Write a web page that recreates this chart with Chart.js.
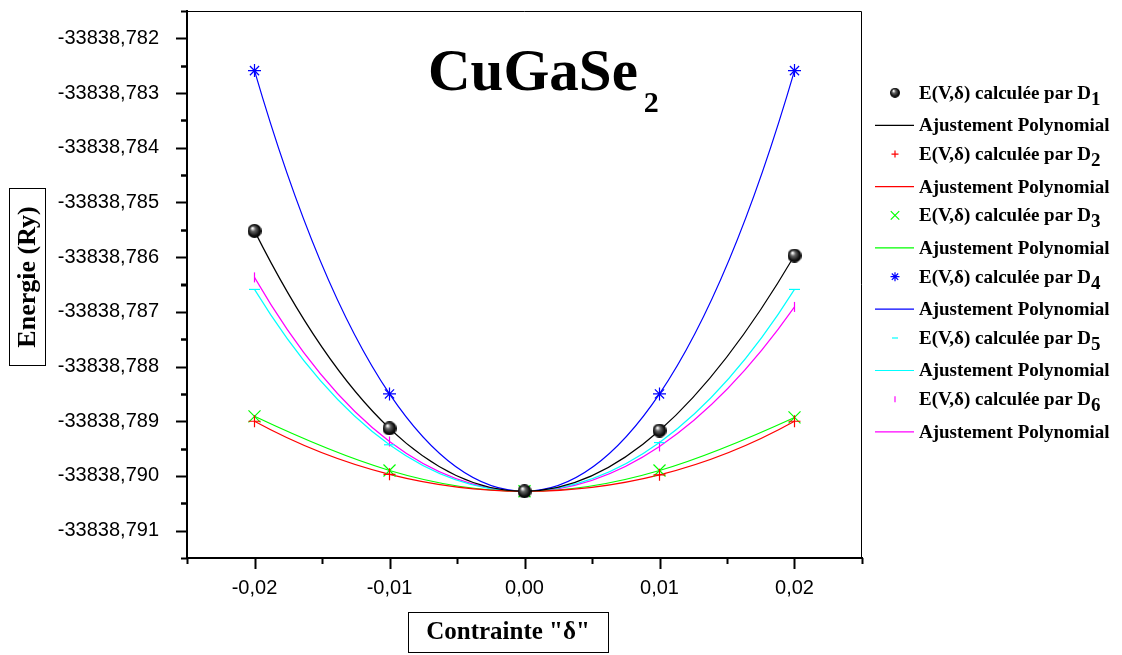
<!DOCTYPE html>
<html lang="fr">
<head>
    <meta charset="UTF-8">
    <title>CuGaSe2 - Energie en fonction de la contrainte</title>
    <script src="https://cdn.jsdelivr.net/npm/chart.js"></script>
    <style>
        body {
            margin: 0;
            padding: 0;
            background: #fff;
            overflow: hidden;
        }
        #energyChart {
            display: block;
        }
    </style>
</head>
<body>
    <canvas id="energyChart" width="1122" height="655"></canvas>
    <script>
    // Contrainte delta (x) and the energies E(V,delta) in Ry for each distortion D1..D6
    const contrainte = [-0.02, -0.01, 0.00, 0.01, 0.02];
    const energieD1 = [-33838.78552, -33838.78913, -33838.79028, -33838.78917, -33838.78597];
    const energieD2 = [-33838.78900, -33838.78997, -33838.79028, -33838.78998, -33838.78900];
    const energieD3 = [-33838.78891, -33838.78990, -33838.79028, -33838.78990, -33838.78893];
    const energieD4 = [-33838.78259, -33838.78850, -33838.79028, -33838.78850, -33838.78259];
    const energieD5 = [-33838.78659, -33838.78943, -33838.79028, -33838.78939, -33838.78659];
    const energieD6 = [-33838.78637, -33838.78937, -33838.79028, -33838.78946, -33838.78691];

    // axis tick values
    const xTicks = [-0.02, -0.01, 0.00, 0.01, 0.02];
    const yTicks = [-33838.782, -33838.783, -33838.784, -33838.785, -33838.786,
                    -33838.787, -33838.788, -33838.789, -33838.790, -33838.791];

    const serif = '"Liberation Serif", "Times New Roman", serif';
    const sans = '"Liberation Sans", Arial, sans-serif';

    // shaded black ball used for D1
    function sphere(r) {
        const c = document.createElement('canvas');
        c.width = c.height = 2 * r;
        const g = c.getContext('2d');
        const grad = g.createRadialGradient(r * 0.7, r * 0.6, r * 0.08, r, r, r);
        grad.addColorStop(0, '#ffffff');
        grad.addColorStop(0.3, '#666666');
        grad.addColorStop(0.75, '#111111');
        grad.addColorStop(1, '#000000');
        g.fillStyle = grad;
        g.beginPath();
        g.arc(r, r, r, 0, Math.PI * 2);
        g.fill();
        return c;
    }

    const series = [
        { sub: '1', values: energieD1, color: '#000000', style: sphere(7), legendStyle: sphere(5), radius: 7, legendRadius: 5, rotation: 0 },
        { sub: '2', values: energieD2, color: '#ff0000', style: 'cross', legendStyle: 'cross', radius: 6, legendRadius: 3.5, rotation: 0 },
        { sub: '3', values: energieD3, color: '#00ff00', style: 'crossRot', legendStyle: 'crossRot', radius: 8.5, legendRadius: 6, rotation: 0 },
        { sub: '4', values: energieD4, color: '#0000ff', style: 'star', legendStyle: 'star', radius: 6.5, legendRadius: 4.5, rotation: 0 },
        { sub: '5', values: energieD5, color: '#00ffff', style: 'line', legendStyle: 'line', radius: 5.5, legendRadius: 3, rotation: 0 },
        { sub: '6', values: energieD6, color: '#ff00ff', style: 'line', legendStyle: 'line', radius: 5, legendRadius: 3, rotation: 90 }
    ];

    const toPoints = values => contrainte.map((x, i) => ({ x: x, y: values[i] }));

    const datasets = [];
    series.forEach(s => {
        datasets.push({
            label: 'E(V,δ) calculée par D' + s.sub,
            data: toPoints(s.values),
            showLine: false,
            pointStyle: s.style,
            pointRadius: s.radius,
            pointRotation: s.rotation,
            pointBorderWidth: 1.2,
            pointBorderColor: s.color,
            pointBackgroundColor: s.color,
            order: 0
        });
        datasets.push({
            label: 'Ajustement Polynomial',
            data: toPoints(s.values),
            showLine: true,
            tension: 0.4,
            borderColor: s.color,
            borderWidth: 1.2,
            pointRadius: 0,
            fill: false,
            order: 1
        });
    });

    // The fit curves pass through the five points; their bezier handles are set from
    // the slopes of the 4th-degree polynomial through those points (5-point stencils)
    // so each curve bends like the polynomial fit instead of the default spline.
    const polyTangents = {
        id: 'polyTangents',
        beforeDatasetDraw(chart, args) {
            const meta = args.meta;
            const line = meta.dataset;
            if (!line || !chart.data.datasets[args.index].showLine) return;
            line.updateControlPoints(chart.chartArea, 'x');
            const pts = meta.data;
            if (pts.length !== 5) return;
            const f = pts.map(p => p.y);
            const h = pts[1].x - pts[0].x;
            const slope = [
                -25 * f[0] + 48 * f[1] - 36 * f[2] + 16 * f[3] - 3 * f[4],
                -3 * f[0] - 10 * f[1] + 18 * f[2] - 6 * f[3] + f[4],
                f[0] - 8 * f[1] + 8 * f[3] - f[4],
                -f[0] + 6 * f[1] - 18 * f[2] + 10 * f[3] + 3 * f[4],
                3 * f[0] - 16 * f[1] + 36 * f[2] - 48 * f[3] + 25 * f[4]
            ].map(v => v / (12 * h));
            const hx = h / 3;
            pts.forEach((p, i) => {
                p.cp1x = p.x - hx;
                p.cp1y = p.y - slope[i] * hx;
                p.cp2x = p.x + hx;
                p.cp2y = p.y + slope[i] * hx;
            });
        }
    };

    // frame, minor/major ticks, boxed titles and the legend column
    const decorations = {
        id: 'decorations',
        afterDraw(chart) {
            const ctx = chart.ctx;
            const a = chart.chartArea;
            const xs = chart.scales.x, ys = chart.scales.y;
            ctx.save();

            // top and right edges of the frame
            ctx.strokeStyle = '#000';
            ctx.lineWidth = 1;
            ctx.beginPath();
            ctx.moveTo(a.left, a.top + 0.5);
            ctx.lineTo(a.right - 0.5, a.top + 0.5);
            ctx.lineTo(a.right - 0.5, a.bottom);
            ctx.stroke();

            // tick marks, major every step, minor halfway
            ctx.lineWidth = 2;
            const withMinor = (ticks, min, max) => {
                const step = ticks[1] - ticks[0];
                const out = ticks.map(v => ({ v: v, major: true }));
                ticks.forEach(v => {
                    [v - step / 2, v + step / 2].forEach(m => {
                        if (m >= min - 1e-9 && m <= max + 1e-9 &&
                            !out.some(o => Math.abs(o.v - m) < step / 10)) {
                            out.push({ v: m, major: false });
                        }
                    });
                });
                return out;
            };
            withMinor(yTicks, ys.min, ys.max).forEach(t => {
                const py = Math.round(ys.getPixelForValue(t.v)) + 0.5;
                ctx.beginPath();
                ctx.moveTo(a.left - (t.major ? 11 : 6), py);
                ctx.lineTo(a.left, py);
                ctx.stroke();
            });
            withMinor(xTicks, xs.min, xs.max).forEach(t => {
                const px = Math.round(xs.getPixelForValue(t.v)) + 0.5;
                ctx.beginPath();
                ctx.moveTo(px, a.bottom);
                ctx.lineTo(px, a.bottom + (t.major ? 11 : 6));
                ctx.stroke();
            });

            // compound name
            ctx.fillStyle = '#000';
            ctx.textBaseline = 'alphabetic';
            ctx.textAlign = 'left';
            ctx.font = 'bold 59px ' + serif;
            ctx.fillText('CuGaSe', 428, 90);
            const wName = ctx.measureText('CuGaSe').width;
            ctx.font = 'bold 30px ' + serif;
            ctx.fillText('2', 428 + wName + 6, 112);

            // boxed y-axis title
            ctx.lineWidth = 1;
            ctx.strokeRect(9.5, 188.5, 36, 177);
            ctx.save();
            ctx.translate(28, 277);
            ctx.rotate(-Math.PI / 2);
            ctx.font = 'bold 26px ' + serif;
            ctx.textAlign = 'center';
            ctx.textBaseline = 'middle';
            ctx.fillText('Energie (Ry)', 0, 0);
            ctx.restore();

            // boxed x-axis title
            ctx.strokeRect(408.5, 612.5, 200, 40);
            ctx.font = 'bold 25px ' + serif;
            ctx.textAlign = 'center';
            ctx.textBaseline = 'middle';
            ctx.fillText('Contrainte "δ"', 508, 633);

            // legend
            ctx.textAlign = 'left';
            series.forEach((s, i) => {
                const ym = 92.8 + 61.3 * i;
                const yl = ym + 32.5;
                ctx.fillStyle = s.color;
                ctx.strokeStyle = s.color;
                ctx.lineWidth = 1.2;
                Chart.helpers.drawPoint(ctx, {
                    pointStyle: s.legendStyle,
                    rotation: s.rotation,
                    radius: s.legendRadius,
                    borderWidth: 1.2
                }, 895, ym);
                ctx.beginPath();
                ctx.moveTo(875, yl);
                ctx.lineTo(914, yl);
                ctx.stroke();

                ctx.fillStyle = '#000';
                ctx.font = 'bold 19px ' + serif;
                ctx.textBaseline = 'middle';
                const txt = 'E(V,δ) calculée par D';
                ctx.fillText(txt, 919, ym + 1);
                ctx.fillText(s.sub, 919 + ctx.measureText(txt).width, ym + 7);
                ctx.fillText('Ajustement Polynomial', 919, yl + 1);
            });

            ctx.restore();
        }
    };

    new Chart(document.getElementById('energyChart'), {
        type: 'scatter',
        data: { datasets: datasets },
        options: {
            responsive: false,
            animation: false,
            devicePixelRatio: 1,
            layout: { padding: { top: 11, right: 260, bottom: 0, left: 0 } },
            plugins: {
                legend: { display: false },
                tooltip: { enabled: false },
                title: { display: false }
            },
            scales: {
                x: {
                    type: 'linear',
                    min: -0.025,
                    max: 0.025,
                    afterBuildTicks: scale => { scale.ticks = xTicks.map(v => ({ value: v })); },
                    afterFit: scale => {
                        scale.height = 97;
                        scale.paddingLeft = 0;
                        scale.paddingRight = 0;
                    },
                    grid: { display: false },
                    border: { display: true, color: '#000', width: 2 },
                    ticks: {
                        padding: 10,
                        color: '#000',
                        font: { family: sans, size: 20 },
                        maxRotation: 0,
                        callback: v => v.toFixed(2).replace('.', ',')
                    }
                },
                y: {
                    type: 'linear',
                    min: -33838.7915,
                    max: -33838.7815,
                    afterBuildTicks: scale => { scale.ticks = yTicks.map(v => ({ value: v })); },
                    afterFit: scale => {
                        scale.width = 187;
                        scale.paddingTop = 0;
                        scale.paddingBottom = 0;
                    },
                    grid: { display: false },
                    border: { display: true, color: '#000', width: 2 },
                    ticks: {
                        padding: 20,
                        color: '#000',
                        font: { family: sans, size: 20 },
                        callback: v => v.toFixed(3).replace('.', ',')
                    }
                }
            }
        },
        plugins: [polyTangents, decorations]
    });
    </script>
</body>
</html>
